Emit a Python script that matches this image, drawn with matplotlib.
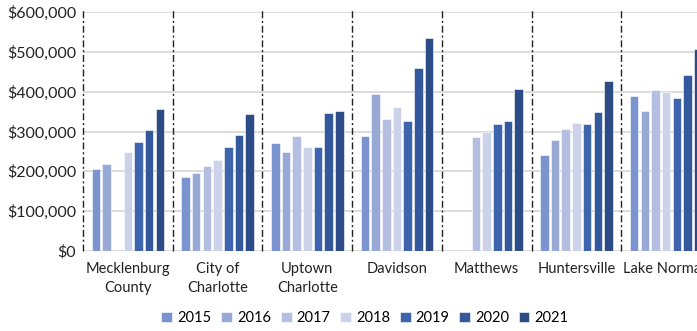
import numpy as np
import matplotlib
matplotlib.use("Agg")
import matplotlib.pyplot as plt

plt.rcParams['font.family'] = ['Lato', 'DejaVu Sans']

places = ["Mecklenburg\nCounty", "City of\nCharlotte", "Uptown\nCharlotte",
          "Davidson", "Matthews", "Huntersville", "Lake Norman"]
years = ["2015", "2016", "2017", "2018", "2019", "2020", "2021"]
colors = ["#7B93CF", "#98A9D6", "#B3BEE0", "#CBD2EA", "#3D64AC", "#33589C", "#2D4C87"]

# median price per place, one list per year (None = no data)
v2015 = [206000, 187000, 270000, 288000, None, 242000, 389000]
v2016 = [218000, 197000, 248000, 394000, None, 279000, 352000]
v2017 = [None, 214000, 288000, 331000, 286000, 306000, 404000]
v2018 = [248000, 229000, 260000, 361000, 300000, 321000, 398000]
v2019 = [274000, 260000, 260000, 327000, 318000, 318000, 383000]
v2020 = [304000, 291000, 346000, 459000, 327000, 348000, 441000]
v2021 = [356000, 343000, 352000, 535000, 407000, 426000, 507000]
series = [v2015, v2016, v2017, v2018, v2019, v2020, v2021]

fig = plt.figure(figsize=(6.97, 3.31), dpi=100)
# the last group runs past the right edge of the figure
ax = fig.add_axes([83/697, 80/331, 628/697, 239/331])

x = np.arange(len(places))
slot = 0.119
w = 0.095
for i, (yr, vals, c) in enumerate(zip(years, series, colors)):
    h = [np.nan if v is None else v for v in vals]
    ax.bar(x + (i - 3) * slot, h, width=w, color=c, edgecolor='white',
           linewidth=0.4, label=yr, zorder=3)

ax.set_xlim(-0.5, len(places) - 0.5)
ax.set_ylim(0, 600000)
ax.set_yticks(np.arange(0, 600001, 100000))
ax.yaxis.set_major_formatter(matplotlib.ticker.FuncFormatter(lambda v, p: "${:,.0f}".format(v)))
ax.set_xticks(x)
ax.set_xticklabels(places, linespacing=1.45)
ax.tick_params(axis='both', length=0, labelsize=10.5, colors='#222222')
ax.tick_params(axis='x', pad=8)
ax.tick_params(axis='y', pad=5, labelsize=11.5)
ax.grid(axis='y', color='#D9D9D9', linewidth=1.3, zorder=0)
for s in ax.spines.values():
    s.set_visible(False)

for b in np.arange(-0.5, len(places) - 0.5, 1.0):
    ax.axvline(b, ymin=0, ymax=1.01, color='#222222', linewidth=1.0,
               linestyle=(0, (5, 2, 1.5, 2)), zorder=4, clip_on=False)

fig.legend(loc='center', bbox_to_anchor=(365/697, 1 - 318/331), ncol=7,
           frameon=False, fontsize=10.5, handlelength=0.75, handleheight=0.75,
           handletextpad=0.35, columnspacing=0.65)

fig.savefig("out.png", dpi=100)
